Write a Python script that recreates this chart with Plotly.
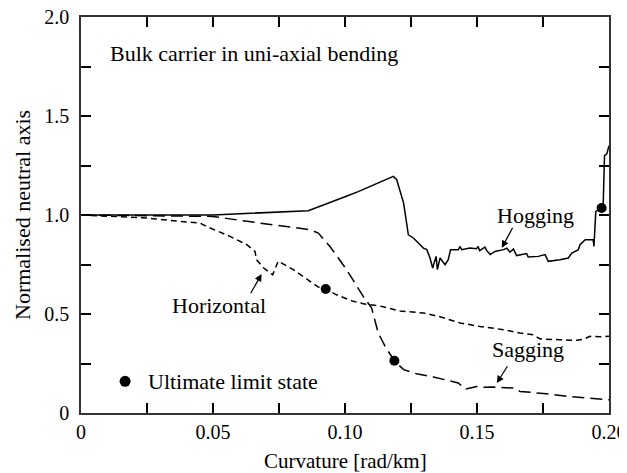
import plotly.graph_objects as go

# ---- data ----
hog_x = [0, 0.02, 0.05, 0.0861, 0.091, 0.096, 0.1005, 0.105, 0.109, 0.1133, 0.1183, 0.1196,
         0.1222, 0.124, 0.1259, 0.1278, 0.1297, 0.131, 0.1322, 0.1332, 0.1345, 0.135, 0.136,
         0.1379, 0.1391, 0.14, 0.1429, 0.1436, 0.1442, 0.1473, 0.1498, 0.1504, 0.151, 0.153,
         0.1537, 0.155, 0.1568, 0.16, 0.1613, 0.1625, 0.1638, 0.165, 0.1688, 0.1694, 0.1732,
         0.1758, 0.177, 0.1814, 0.1846, 0.1859, 0.1884, 0.189, 0.191, 0.194, 0.1943, 0.195,
         0.196, 0.1972, 0.1978, 0.1983, 0.1992, 0.2]
hog_y = [1.0, 1.0, 1.0, 1.022, 1.048, 1.072, 1.095, 1.118, 1.14, 1.167, 1.195, 1.178,
         1.06, 0.90, 0.884, 0.859, 0.833, 0.825, 0.783, 0.732, 0.791, 0.724, 0.783,
         0.749, 0.774, 0.825, 0.825, 0.841, 0.825, 0.833, 0.830, 0.841, 0.820, 0.838,
         0.820, 0.80, 0.816, 0.825, 0.832, 0.812, 0.828, 0.795, 0.805, 0.788, 0.791,
         0.80, 0.766, 0.774, 0.783, 0.808, 0.825, 0.85, 0.875, 0.875, 0.841, 1.018,
         1.025, 1.035, 1.05, 1.30, 1.31, 1.35]

hor_x = [0, 0.0122, 0.0249, 0.0375, 0.045, 0.0476, 0.0564, 0.0628, 0.0659, 0.0665, 0.069,
         0.0726, 0.0747, 0.0804, 0.0867, 0.0899, 0.0927, 0.0968, 0.1031, 0.1069, 0.1133,
         0.1208, 0.1297, 0.1354, 0.1436, 0.1511, 0.16, 0.1663, 0.1713, 0.1739, 0.1814,
         0.1878, 0.1903, 0.1928, 0.1965, 0.2]
hor_y = [1.0, 0.993, 0.985, 0.968, 0.96, 0.942, 0.892, 0.85, 0.816, 0.774, 0.735,
         0.698, 0.767, 0.724, 0.665, 0.636, 0.626, 0.597, 0.564, 0.552, 0.54,
         0.515, 0.505, 0.488, 0.455, 0.437, 0.421, 0.404, 0.395, 0.374, 0.37,
         0.367, 0.372, 0.387, 0.385, 0.387]

sag_x = [0, 0.025, 0.05, 0.0628, 0.0754, 0.0867, 0.0899, 0.0943, 0.1006, 0.1069, 0.1101,
         0.1126, 0.1152, 0.1187, 0.1222, 0.1271, 0.1335, 0.1385, 0.1429, 0.1455, 0.1499,
         0.1525, 0.1563, 0.1638, 0.1663, 0.1764, 0.184, 0.1915, 0.2]
sag_y = [1.0, 0.997, 0.993, 0.968, 0.946, 0.926, 0.909, 0.841, 0.724, 0.589, 0.53,
         0.404, 0.336, 0.264, 0.219, 0.198, 0.182, 0.165, 0.152, 0.121, 0.134,
         0.13, 0.131, 0.126, 0.109, 0.097, 0.084, 0.076, 0.067]

uls_x = [0.0927, 0.1187, 0.1972]
uls_y = [0.626, 0.264, 1.035]

x_tickvals = [0, 0.025, 0.05, 0.075, 0.10, 0.125, 0.15, 0.175, 0.20]
x_ticktext = ["0", "", "0.05", "", "0.10", "", "0.15", "", "0.20"]
y_tickvals = [0, 0.25, 0.5, 0.75, 1.0, 1.25, 1.5, 1.75, 2.0]
y_ticktext = ["0", "", "0.5", "", "1.0", "", "1.5", "", "2.0"]

FONT = "Liberation Serif"
TXT = dict(size=22, family=FONT, color="black")
fig = go.Figure()

fig.add_trace(go.Scatter(x=hog_x, y=hog_y, mode="lines",
                         line=dict(color="black", width=1.5), showlegend=False))
fig.add_trace(go.Scatter(x=hor_x, y=hor_y, mode="lines",
                         line=dict(color="black", width=1.5, dash="6px,4px"), showlegend=False))
fig.add_trace(go.Scatter(x=sag_x, y=sag_y, mode="lines",
                         line=dict(color="black", width=1.5, dash="12px,6px"), showlegend=False))
fig.add_trace(go.Scatter(x=uls_x, y=uls_y, mode="markers",
                         marker=dict(color="black", size=10), showlegend=False))
# legend-like dot
fig.add_trace(go.Scatter(x=[0.0167], y=[0.16], mode="markers",
                         marker=dict(color="black", size=11), showlegend=False))

ann = []
ann.append(dict(x=0.0102, y=1.815, text="Bulk carrier in uni-axial bending", showarrow=False,
                xanchor="left", yanchor="middle", font=TXT))
ann.append(dict(x=0.0248, y=0.16, text="Ultimate limit state", showarrow=False,
                xanchor="left", yanchor="middle", font=TXT))
ann.append(dict(x=0.1723, y=1.0, text="Hogging", showarrow=False,
                xanchor="center", yanchor="middle", font=TXT))
ann.append(dict(x=0.1695, y=0.32, text="Sagging", showarrow=False,
                xanchor="center", yanchor="middle", font=TXT))
ann.append(dict(x=0.0523, y=0.542, text="Horizontal", showarrow=False,
                xanchor="center", yanchor="middle", font=TXT))
# arrows
for hx, hy, ax, ay in [(0.1594, 0.834, 11.6, -21.6), (0.1575, 0.151, 11.6, -18.3),
                       (0.0684, 0.702, -11.7, 20.7)]:
    ann.append(dict(x=hx, y=hy, ax=ax, ay=ay, axref="pixel", ayref="pixel", text="",
                    showarrow=True, arrowhead=2, arrowsize=1.2, arrowwidth=1.2,
                    arrowcolor="black"))
# axis titles
ann.append(dict(x=0.5, y=0, xref="paper", yref="paper", text="Curvature [rad/km]",
                showarrow=False, xanchor="center", yanchor="middle", yshift=-48,
                font=dict(size=21, family=FONT, color="black")))
ann.append(dict(x=0, y=0.5, xref="paper", yref="paper", text="Normalised neutral axis",
                showarrow=False, xanchor="center", yanchor="middle", xshift=-59,
                textangle=-90, font=TXT))

# page body has an 8px default margin; margins compensate so the plot box sits
# at x 81..609, y 17..413 of the window
fig.update_layout(
    width=627, height=473,
    margin=dict(l=73, r=26, t=9, b=68, autoexpand=False),
    paper_bgcolor="white", plot_bgcolor="white",
    annotations=ann,
    font=dict(family=FONT, size=20, color="black"),
)
fig.update_xaxes(range=[0, 0.2], tickvals=x_tickvals, ticktext=x_ticktext,
                 ticks="inside", ticklen=10, tickwidth=1.5, tickcolor="black",
                 showline=True, linecolor="#333", linewidth=1.5, mirror="ticks",
                 showgrid=False, zeroline=False, automargin=False,
                 ticklabeloverflow="allow",
                 tickfont=dict(size=20, family=FONT, color="black"))
fig.update_yaxes(range=[0, 2], tickvals=y_tickvals, ticktext=y_ticktext,
                 ticks="inside", ticklen=10, tickwidth=1.5, tickcolor="black",
                 showline=True, linecolor="#333", linewidth=1.5, mirror="ticks",
                 showgrid=False, zeroline=False, automargin=False, ticklabelstandoff=6,
                 ticklabeloverflow="allow",
                 tickfont=dict(size=20, family=FONT, color="black"))

fig.write_html("out.html")
